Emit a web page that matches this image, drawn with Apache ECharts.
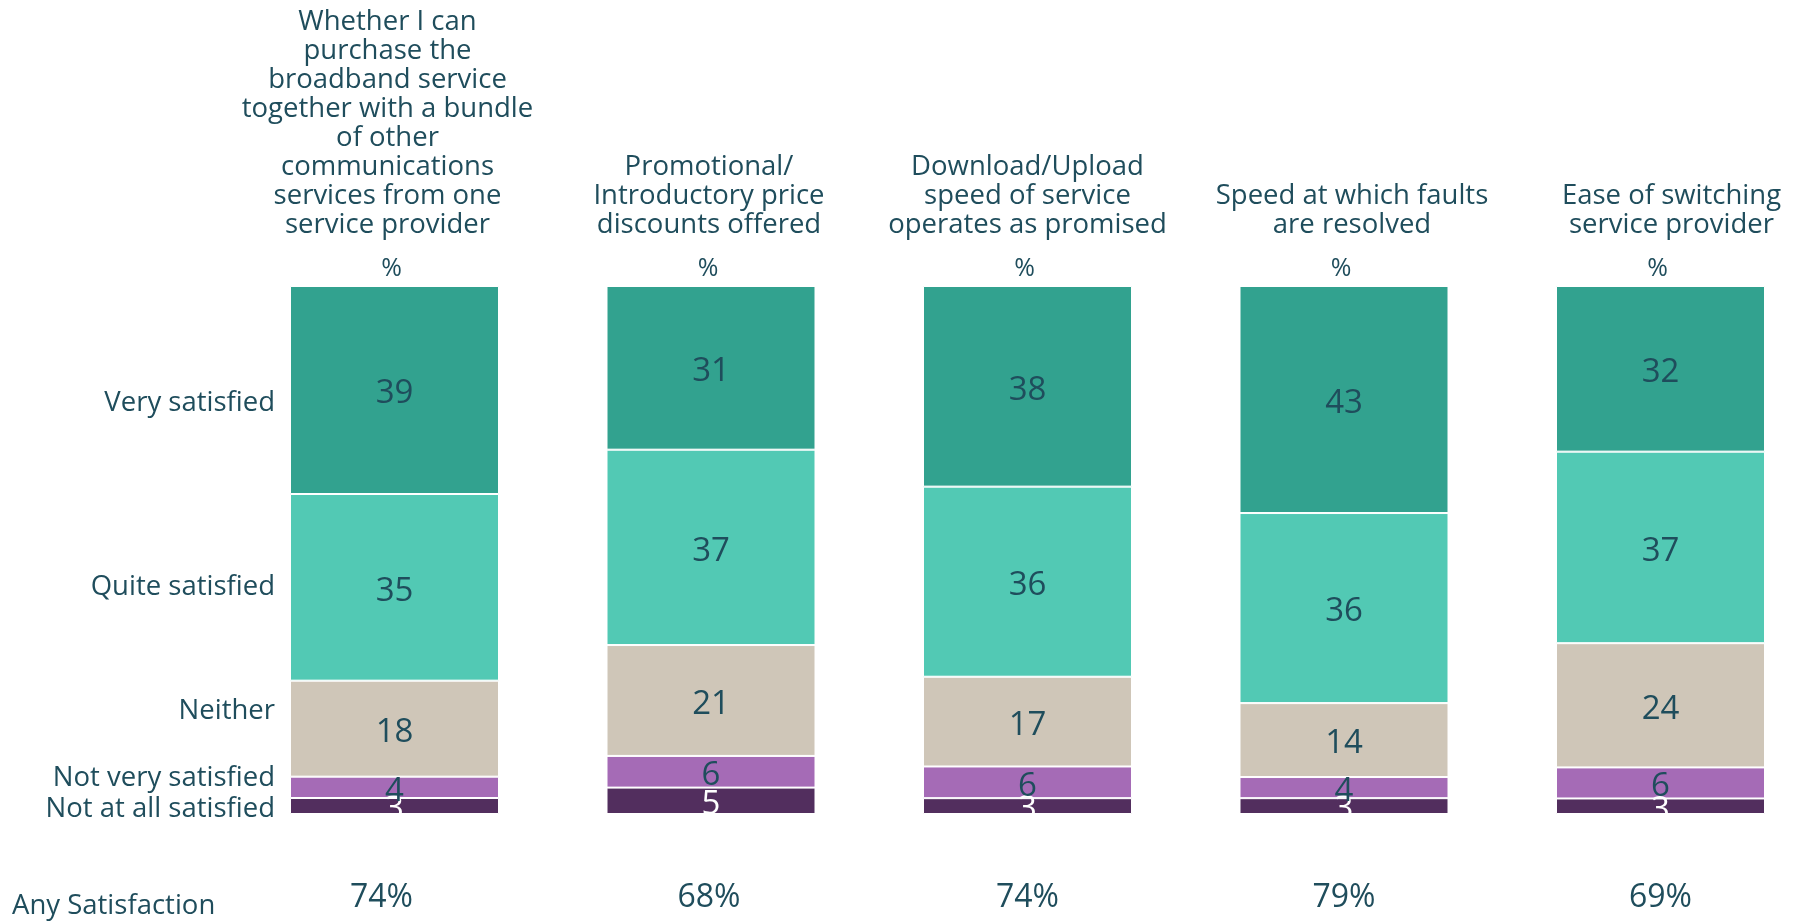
<!DOCTYPE html>
<html>
<head>
<meta charset="utf-8">
<title>Satisfaction with broadband service aspects</title>
<script src="https://cdn.jsdelivr.net/npm/echarts@6/dist/echarts.min.js"></script>
<style>
  html, body { margin: 0; padding: 0; background: #ffffff; }
  #chart { width: 1800px; height: 921px; }
</style>
</head>
<body>
<div id="chart"></div>
<script>
// Aspects of the broadband service (column headers)
const categories = [
  'Whether I can\npurchase the\nbroadband service\ntogether with a bundle\nof other\ncommunications\nservices from one\nservice provider',
  'Promotional/\nIntroductory price\ndiscounts offered',
  'Download/Upload\nspeed of service\noperates as promised',
  'Speed at which faults\nare resolved',
  'Ease of switching\nservice provider'
];

// Response levels, top of each column first
const levels = ['Very satisfied', 'Quite satisfied', 'Neither', 'Not very satisfied', 'Not at all satisfied'];

// Percentages per response level, one value per aspect
const verySatisfied     = [39, 31, 38, 43, 32];
const quiteSatisfied    = [35, 37, 36, 36, 37];
const neither           = [18, 21, 17, 14, 24];
const notVerySatisfied  = [4, 6, 6, 4, 6];
const notAtAllSatisfied = [3, 5, 3, 3, 3];

// Net satisfaction row shown under the columns
const anySatisfaction = [74, 68, 74, 79, 69];

const seriesValues = [verySatisfied, quiteSatisfied, neither, notVerySatisfied, notAtAllSatisfied];
const colors = ['#32a28f', '#52c9b4', '#cfc6b8', '#a56bb6', '#522e5e'];
const labelColors = ['#1f4d5c', '#1f4d5c', '#1f4d5c', '#1f4d5c', '#ffffff'];

const TEXT = '#1f4d5c';
const FONT = '"Open Sans", "Noto Sans", sans-serif';

// Each column is its own grid so every column fills the full height (100% stacked)
const GRID_TOP = 286;
const GRID_HEIGHT = 528;
const FIRST_LEFT = 290;
const STEP = 316.5;
const BAR_W = 209;

// small horizontal nudges of the text boxes (px, + = right)
const headerShift = [-7, -2, 0, 8, 11];
const pctShift = [-3, -3, -3, -3, -3];
const bottomShift = [-13, -2, 0, 0, 0];

// padding that moves centred text by dx
const shiftPad = dx => dx >= 0 ? [0, 0, 0, 2 * dx] : [0, -2 * dx, 0, 0];

const grids = [];
const xAxes = [];
const yAxes = [];
const series = [];

categories.forEach((cat, i) => {
  grids.push({ left: FIRST_LEFT + i * STEP, top: GRID_TOP, width: BAR_W, height: GRID_HEIGHT, containLabel: false });

  // header axis
  xAxes.push({
    type: 'category', gridIndex: i, position: 'top', data: [cat],
    axisLine: { show: false }, axisTick: { show: false }, splitLine: { show: false },
    axisLabel: {
      interval: 0, margin: 2,
      formatter: v => v.split('\n').map(l => '{h|' + l + '}').join('\n') + '\n{g| }\n{p|%}',
      rich: {
        h: { fontSize: 27.5, lineHeight: 29, color: TEXT, fontFamily: FONT, align: 'center', padding: shiftPad(headerShift[i]) },
        g: { fontSize: 10, lineHeight: 14, align: 'center' },
        p: { fontSize: 25, lineHeight: 30, color: TEXT, fontFamily: FONT, align: 'center', padding: shiftPad(pctShift[i]) }
      }
    }
  });
  // "Any Satisfaction" axis
  xAxes.push({
    type: 'category', gridIndex: i, position: 'bottom', data: [anySatisfaction[i]],
    axisLine: { show: false }, axisTick: { show: false }, splitLine: { show: false },
    axisLabel: {
      interval: 0, margin: 65, color: TEXT, fontFamily: FONT, fontSize: 32, lineHeight: 38,
      padding: shiftPad(bottomShift[i]),
      formatter: v => v + '%'
    }
  });

  const total = seriesValues.reduce((s, arr) => s + arr[i], 0);
  yAxes.push({ type: 'value', gridIndex: i, min: 0, max: total, show: false, splitLine: { show: false } });

  // stack from the bottom level upwards
  for (let s = seriesValues.length - 1; s >= 0; s--) {
    series.push({
      type: 'bar',
      name: levels[s],
      xAxisIndex: i * 2,
      yAxisIndex: i,
      stack: 'col' + i,
      barWidth: '100%',
      data: [seriesValues[s][i]],
      itemStyle: { color: colors[s], borderColor: '#ffffff', borderWidth: 1 },
      label: {
        show: true, position: 'inside', offset: [0, 4], color: labelColors[s],
        fontFamily: FONT, fontSize: 33
      },
      emphasis: { disabled: true },
      animation: false
    });
  }
});

// Row labels at the left of the first column
const levelLabelY = [403, 587, 711, 778, 809];
const graphics = levels.map((t, k) => ({
  type: 'text', x: 275, y: levelLabelY[k],
  style: { text: t, fill: TEXT, font: '27.5px ' + FONT, textAlign: 'right', textVerticalAlign: 'middle', align: 'right', verticalAlign: 'middle' }
}));
graphics.push({
  type: 'text', x: 12, y: 906,
  style: { text: 'Any Satisfaction', fill: TEXT, font: '27.5px ' + FONT, textAlign: 'left', textVerticalAlign: 'middle', align: 'left', verticalAlign: 'middle' }
});

const chart = echarts.init(document.getElementById('chart'), null, { renderer: 'canvas' });
chart.setOption({
  backgroundColor: '#ffffff',
  animation: false,
  grid: grids,
  xAxis: xAxes,
  yAxis: yAxes,
  series: series,
  graphic: graphics
});
</script>
</body>
</html>
